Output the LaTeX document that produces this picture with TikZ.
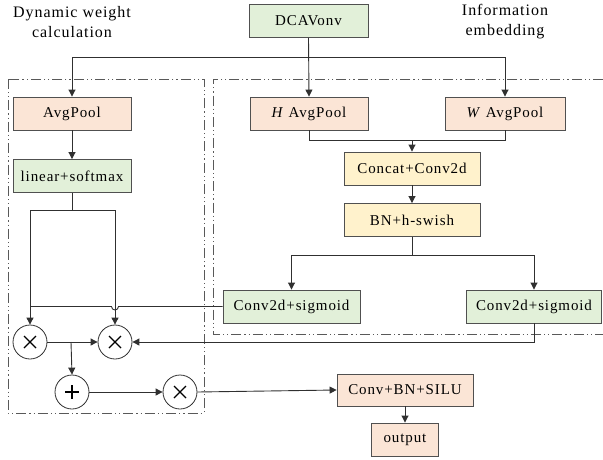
\documentclass[tikz,border=0pt]{standalone}
\usepackage{fontspec}
\setmainfont{Liberation Serif}[LetterSpace=6]
\usetikzlibrary{arrows.meta}
\definecolor{peach}{HTML}{FBE5D6}
\definecolor{leaf}{HTML}{E2F0D9}
\definecolor{butter}{HTML}{FFF2CC}
\definecolor{edge}{HTML}{505050}
\definecolor{wire}{HTML}{303030}
\begin{document}
\begin{tikzpicture}[x=1pt,y=-1pt,
  box/.style={draw=edge,line width=0.9pt,rectangle,inner sep=0pt,minimum height=33pt,font=\fontsize{15}{17}\selectfont},
  pbox/.style={box,fill=peach},
  gbox/.style={box,fill=leaf},
  ybox/.style={box,fill=butter},
  op/.style={draw=wire,line width=0.8pt,circle,fill=white,minimum size=34pt,inner sep=0pt},
  wire/.style={draw=wire,line width=0.9pt},
  arr/.style={wire,-{Triangle[length=7pt,width=7pt]}},
  frame/.style={draw=black!65,line width=1pt,dash pattern=on 10pt off 3pt on 1.2pt off 3pt on 1.2pt off 3pt},
  lbl/.style={align=center,font=\fontsize{16}{20}\selectfont}]
\useasboundingbox (0,0) rectangle (603,459);
% frames
\draw[frame] (8,79) rectangle (204,413);
\draw[frame] (603,79) -- (213,79) -- (213,334) -- (603,334);
% labels
\node[lbl] (t1) at (72,22) {Dynamic weight\\calculation};
\node[lbl] (t2) at (505,22) {Information\\embedding};
% boxes
\node[gbox,minimum width=119pt] (dca) at (308.5,21) {DCAVonv};
\node[pbox,minimum width=118pt] (avg) at (72,113.5) {AvgPool};
\node[gbox,minimum width=118pt] (lin) at (72,176) {linear+softmax};
\node[pbox,minimum width=118pt] (hav) at (309,113.5) {\textit{H} AvgPool};
\node[pbox,minimum width=120pt] (wav) at (505,113.5) {\textit{W} AvgPool};
\node[ybox,minimum width=136pt] (cat) at (412,168.5) {Concat+Conv2d};
\node[ybox,minimum width=136pt] (bn) at (412,220) {BN+h-swish};
\node[gbox,minimum width=137pt] (cs1) at (291.5,306.5) {Conv2d+sigmoid};
\node[gbox,minimum width=135pt] (cs2) at (534,306.5) {Conv2d+sigmoid};
\node[pbox,minimum width=136pt,minimum height=32pt] (cbs) at (405,390) {Conv+BN+SILU};
\node[pbox,minimum width=67pt] (out) at (405,439.5) {output};
% operators
\node[op] (m1) at (30,342) {};
\node[op] (m2) at (115,342) {};
\node[op] (pl) at (72,392) {};
\node[op] (m3) at (180,392) {};
\foreach \n in {m1,m2,m3}{
  \draw[line width=1.3pt] ([shift={(-6,-6)}]\n.center) -- ([shift={(6,6)}]\n.center);
  \draw[line width=1.3pt] ([shift={(-6,6)}]\n.center) -- ([shift={(6,-6)}]\n.center);
}
\draw[line width=1.3pt] ([shift={(-7,0)}]pl.center) -- ([shift={(7,0)}]pl.center);
\draw[line width=1.3pt] ([shift={(0,-7)}]pl.center) -- ([shift={(0,7)}]pl.center);
% coordinates
\coordinate (j1) at (308.5,57);
\coordinate (j2) at (72,210);
\coordinate (j3) at (412,140);
\coordinate (j4) at (412,255);
\coordinate (j5) at (71,342);
% connectors
\draw[arr] (dca.south) -- (hav.north);
\draw[arr] (j1) -| (avg.north);
\draw[arr] (j1) -| (wav.north);
\draw[arr] (avg) -- (lin);
\draw[wire] (lin.south) -- (j2);
\draw[arr] (j2) -| (m1.north);
\draw[arr] (j2) -| (m2.north);
\draw[wire] (hav.south) |- (j3);
\draw[wire] (wav.south) |- (j3);
\draw[arr] (j3) -- (cat.north);
\draw[arr] (cat) -- (bn);
\draw[wire] (bn.south) -- (j4);
\draw[arr] (j4) -| (cs1.north);
\draw[arr] (j4) -| (cs2.north);
\draw[wire] (cs1.west) -- (118.5,306.5) arc[start angle=0,end angle=180,radius=3.5] -- (30,306.5);
\draw[arr] (cs2.south) |- (m2.east);
\draw[arr] (m1.east) -- (m2.west);
\draw[arr] (j5) -- (pl.north);
\draw[arr] (pl.east) -- (m3.west);
\draw[arr] (m3.east) -- (cbs.west);
\draw[arr] (cbs.south) -- (out.north);
\end{tikzpicture}
\end{document}
